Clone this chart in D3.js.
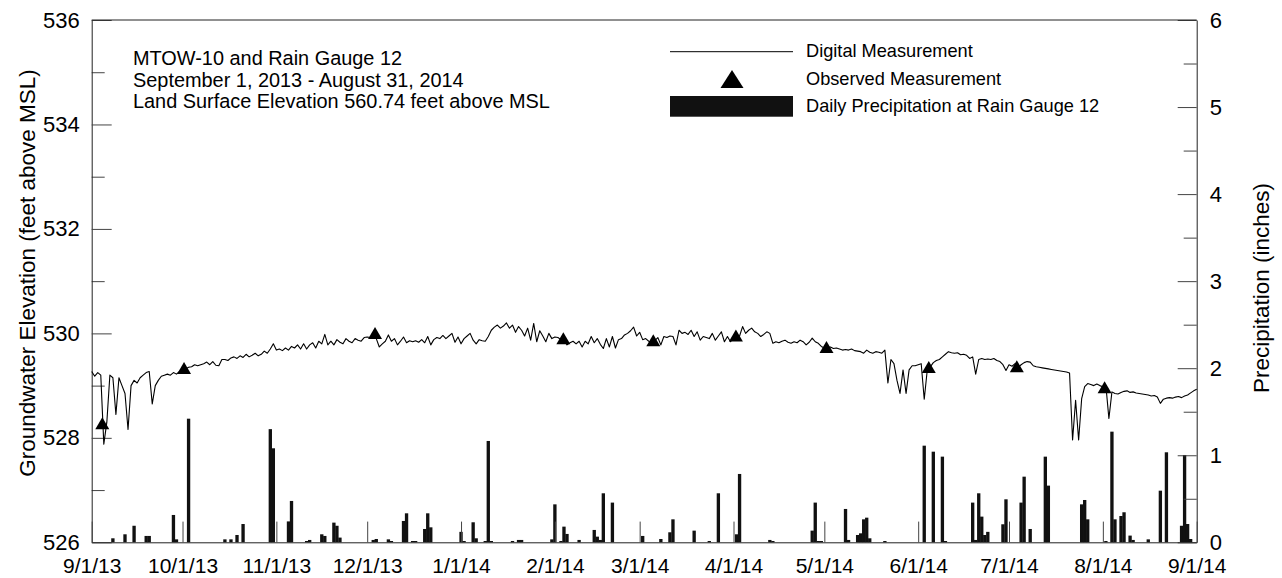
<!DOCTYPE html>
<html>
<head>
<meta charset="utf-8">
<script src="https://cdn.jsdelivr.net/npm/d3@7/dist/d3.min.js"></script>
<style>
  html, body { margin: 0; padding: 0; background: #fff; }
  svg { display: block; }
  text { font-family: "Liberation Sans", Arial, sans-serif; fill: #000; }
</style>
</head>
<body>
<svg id="chart" width="1282" height="578"></svg>
<script>
// Daily groundwater elevation (feet above MSL), one value per day from the start date
const digitalStart = "2013-09-01";
const digitalElevation = [
  529.27, 529.18, 529.25, 529.2, 527.88, 528.3, 529.2, 529.15, 528.45, 529.15,
  529.0, 528.85, 528.16, 529.0, 529.1, 529.05, 529.15, 529.2, 529.25, 529.27,
  528.65, 529.0, 529.1, 529.18, 529.2, 529.22, 529.2, 529.25, 529.22, 529.27,
  529.3, 529.32, 529.35, 529.36, 529.4, 529.38, 529.4, 529.42, 529.45, 529.4,
  529.46, 529.39, 529.38, 529.5, 529.5, 529.48, 529.53, 529.55, 529.52, 529.57,
  529.54, 529.6, 529.55, 529.58, 529.62, 529.57, 529.6, 529.66, 529.62, 529.7,
  529.8, 529.68, 529.7, 529.67, 529.72, 529.68, 529.75, 529.72, 529.78, 529.7,
  529.8, 529.7, 529.78, 529.82, 529.72, 529.85, 529.8, 529.98, 529.78, 529.85,
  529.78, 529.88, 529.83, 529.8, 529.9, 529.85, 529.82, 529.9, 529.87, 529.85,
  529.92, 529.93, 529.92, 529.95, 529.9, 529.74, 529.8, 529.85, 529.97, 529.85,
  529.9, 529.78, 529.85, 529.93, 529.82, 529.86, 529.84, 529.86, 529.83, 529.88,
  529.82, 529.94, 529.78, 529.88, 529.92, 529.9, 529.96, 529.9, 529.95, 530.0,
  529.83, 529.93, 529.8, 529.9, 529.95, 530.0, 529.87, 529.8, 529.88, 529.86,
  529.85, 529.94, 530.06, 530.12, 530.16, 530.1, 530.14, 530.2, 530.1, 530.16,
  530.02, 530.13, 530.06, 529.95, 530.1, 529.87, 530.19, 529.84, 530.05, 529.95,
  529.84, 530.0, 529.9, 529.93, 529.92, 529.88, 529.87, 529.78, 529.82, 529.85,
  529.8, 529.85, 529.74, 529.85, 529.8, 529.94, 529.82, 529.9, 529.79, 529.71,
  529.9, 529.74, 529.94, 529.72, 529.88, 529.9, 529.97, 530.0, 530.05, 530.12,
  529.95, 530.02, 529.88, 529.9, 529.85, 529.83, 529.86, 529.92, 529.78, 529.94,
  529.92, 529.95, 529.94, 529.78, 530.06, 530.0, 530.02, 529.98, 530.06, 529.94,
  530.03, 529.87, 529.94, 529.92, 529.9, 530.0, 529.87, 529.95, 530.03, 529.84,
  529.94, 529.84, 529.9, 529.92, 529.95, 530.13, 530.0, 530.06, 530.1, 530.03,
  530.0, 529.94, 529.98, 530.03, 530.0, 529.81, 529.84, 529.82, 529.85, 529.87,
  529.83, 529.81, 529.84, 529.82, 529.87, 529.84, 529.78, 529.83, 529.91, 529.84,
  529.81, 529.75, 529.72, 529.73, 529.74, 529.71, 529.72, 529.7, 529.68, 529.69,
  529.68, 529.7, 529.67, 529.66, 529.65, 529.62, 529.68, 529.64, 529.62, 529.65,
  529.64, 529.62, 529.68, 529.05, 529.5, 529.42, 529.1, 528.85, 529.3, 528.85,
  529.3, 529.38, 529.38, 529.4, 529.42, 528.74, 529.3, 529.36, 529.44, 529.48,
  529.5, 529.55, 529.6, 529.65, 529.63, 529.62, 529.63, 529.59, 529.6, 529.58,
  529.52, 529.55, 529.22, 529.5, 529.52, 529.5, 529.51, 529.5, 529.52, 529.48,
  529.46, 529.4, 529.29, 529.4, 529.37, 529.42, 529.35, 529.4, 529.44, 529.46,
  529.45, 529.38, 529.36, 529.35, 529.34, 529.33, 529.32, 529.31, 529.3, 529.29,
  529.28, 529.27, 529.26, 529.24, 527.96, 528.72, 527.96, 528.75, 528.98, 529.04,
  529.02, 529.0, 529.03, 529.0, 528.98, 529.0, 528.37, 528.88, 528.85, 528.84,
  528.87, 528.89, 528.9, 528.87, 528.88, 528.86, 528.85, 528.84, 528.83, 528.82,
  528.8, 528.81, 528.78, 528.66, 528.74, 528.76, 528.77, 528.76, 528.78, 528.79,
  528.77, 528.8, 528.82, 528.86, 528.9, 528.93
];

// Manual (observed) water-level measurements
const observedTimes = [
  "2013-09-04T12:00", "2013-10-01T12:00", "2013-12-03T14:00", "2014-02-03T19:00",
  "2014-03-05T12:00", "2014-04-01T19:00", "2014-05-01T17:00", "2014-06-04T12:00",
  "2014-07-03T14:00", "2014-08-01T14:00"
];
const observedElevation = [528.24, 529.30, 529.97, 529.87, 529.83, 529.92, 529.70, 529.32, 529.33, 528.93];

// Daily precipitation at Rain Gauge 12 (inches)
const rainDates = [
  "2013-09-08", "2013-09-12", "2013-09-15", "2013-09-19", "2013-09-20", "2013-09-28", "2013-09-29",
  "2013-10-03", "2013-10-15", "2013-10-17", "2013-10-19", "2013-10-21", "2013-10-30", "2013-10-31",
  "2013-11-05", "2013-11-06", "2013-11-11", "2013-11-12", "2013-11-16", "2013-11-17", "2013-11-20",
  "2013-11-21", "2013-11-22", "2013-12-03", "2013-12-04", "2013-12-08", "2013-12-09", "2013-12-13",
  "2013-12-14", "2013-12-16", "2013-12-17", "2013-12-20", "2013-12-21", "2013-12-22", "2014-01-01",
  "2014-01-02", "2014-01-05", "2014-01-06", "2014-01-09", "2014-01-10", "2014-01-11", "2014-01-18",
  "2014-01-20", "2014-01-21", "2014-01-31", "2014-02-01", "2014-02-03", "2014-02-04", "2014-02-05",
  "2014-02-09", "2014-02-14", "2014-02-15", "2014-02-16", "2014-02-17", "2014-02-20", "2014-03-02",
  "2014-03-08", "2014-03-11", "2014-03-12", "2014-03-19", "2014-03-24", "2014-03-27", "2014-04-02",
  "2014-04-03", "2014-04-13", "2014-04-14", "2014-04-27", "2014-04-28", "2014-04-29", "2014-04-30",
  "2014-05-08", "2014-05-09", "2014-05-12", "2014-05-13", "2014-05-14", "2014-05-15", "2014-05-16",
  "2014-05-21", "2014-06-03", "2014-06-06", "2014-06-09", "2014-06-10", "2014-06-19", "2014-06-20",
  "2014-06-21", "2014-06-22", "2014-06-23", "2014-06-24", "2014-06-29", "2014-06-30", "2014-07-05",
  "2014-07-06", "2014-07-08", "2014-07-13", "2014-07-14", "2014-07-25", "2014-07-26", "2014-07-27",
  "2014-08-02", "2014-08-04", "2014-08-05", "2014-08-07", "2014-08-08", "2014-08-10", "2014-08-11",
  "2014-08-16", "2014-08-20", "2014-08-22", "2014-08-27", "2014-08-28", "2014-08-29", "2014-08-30"
];
const rainInches = [
  0.046, 0.092, 0.19, 0.073, 0.073, 0.314, 0.034,
  1.42, 0.034, 0.034, 0.084, 0.21, 1.30, 1.08,
  0.24, 0.475, 0.015, 0.027, 0.092, 0.073, 0.226,
  0.19, 0.054, 0.027, 0.038, 0.034, 0.015, 0.245,
  0.333, 0.015, 0.015, 0.153, 0.333, 0.172, 0.12,
  0.015, 0.23, 0.046, 0.015, 1.164, 0.015, 0.015,
  0.027, 0.027, 0.034, 0.436, 0.015, 0.18, 0.096,
  0.027, 0.142, 0.065, 0.027, 0.563, 0.456, 0.073,
  0.038, 0.115, 0.264, 0.134, 0.015, 0.563, 0.092,
  0.785, 0.027, 0.015, 0.134, 0.456, 0.015, 0.015,
  0.383, 0.027, 0.084, 0.103, 0.264, 0.283, 0.046,
  0.015, 1.11, 1.041, 0.984, 0.015, 0.456, 0.027,
  0.563, 0.295, 0.084, 0.12, 0.207, 0.494, 0.456,
  0.754, 0.153, 0.984, 0.651, 0.436, 0.486, 0.264,
  0.015, 1.271, 0.264, 0.302, 0.345, 0.077, 0.027,
  0.034, 0.593, 1.034, 0.19, 1.003, 0.21, 0.038
];

// Axis ticks and labels
const monthTicks = [
  "2013-09-01", "2013-10-01", "2013-11-01", "2013-12-01", "2014-01-01", "2014-02-01", "2014-03-01",
  "2014-04-01", "2014-05-01", "2014-06-01", "2014-07-01", "2014-08-01", "2014-09-01"
];
const monthLabels = ["9/1/13", "10/1/13", "11/1/13", "12/1/13", "1/1/14", "2/1/14", "3/1/14",
                     "4/1/14", "5/1/14", "6/1/14", "7/1/14", "8/1/14", "9/1/14"];
const elevMajor = [526, 528, 530, 532, 534, 536];
const elevMinor = [527, 529, 531, 533, 535];
const rainMajor = [0, 1, 2, 3, 4, 5, 6];
const rainMinor = [0.5, 1.5, 2.5, 3.5, 4.5, 5.5];

const titleLines = [
  "MTOW-10 and Rain Gauge 12",
  "September 1, 2013 - August 31, 2014",
  "Land Surface Elevation 560.74 feet above MSL"
];
const legendLabels = ["Digital Measurement", "Observed Measurement", "Daily Precipitation at Rain Gauge 12"];

// ---- layout ----
const plot = { left: 91.7, right: 1196.7, top: 20, bottom: 542.3 };
const parseDay = d3.utcParse("%Y-%m-%d");
const parseTime = d3.utcParse("%Y-%m-%dT%H:%M");

const x = d3.scaleUtc()
  .domain([parseDay("2013-09-01"), parseDay("2014-09-01")])
  .range([plot.left, plot.right]);
const yElev = d3.scaleLinear().domain([526, 536]).range([plot.bottom, plot.top]);
const yRain = d3.scaleLinear().domain([0, 6]).range([plot.bottom, plot.top]);

const svg = d3.select("#chart");
const start = parseDay(digitalStart);
const digital = digitalElevation.map((v, i) => ({ t: d3.utcDay.offset(start, i), v }));
const observed = observedTimes.map((s, i) => ({ t: parseTime(s), v: observedElevation[i] }));
const rain = rainDates.map((s, i) => ({ t: parseDay(s), p: rainInches[i] }));

// ---- precipitation bars ----
const dayWidth = x(parseDay("2013-09-02")) - x(parseDay("2013-09-01"));
const barW = dayWidth * 1.1;
svg.append("g").attr("class", "bars")
  .selectAll("rect").data(rain).join("rect")
  .attr("x", d => x(d.t) - barW / 2)
  .attr("y", d => yRain(d.p))
  .attr("width", barW)
  .attr("height", d => yRain(0) - yRain(d.p))
  .attr("fill", "#111");

// ---- axes ----
const tickColor = "#444";
function styleAxis(size) {
  return g => {
    g.selectAll(".tick line").attr("stroke", tickColor);
    g.select(".domain").attr("stroke", "#222");
    g.selectAll("text").attr("font-size", size).attr("fill", "#000")
      .attr("font-family", "'Liberation Sans', Arial, sans-serif");
  };
}

// left elevation axis, ticks pointing inward
svg.append("g")
  .attr("transform", `translate(${plot.left},0)`)
  .call(d3.axisLeft(yElev).tickValues(elevMinor).tickSizeInner(-13).tickSizeOuter(0).tickFormat(""))
  .call(g => g.select(".domain").remove())
  .call(g => g.selectAll(".tick line").attr("stroke", tickColor));
svg.append("g")
  .attr("transform", `translate(${plot.left},0)`)
  .call(d3.axisLeft(yElev).tickValues(elevMajor).tickSizeInner(-20).tickSizeOuter(0).tickPadding(12).tickFormat(d3.format("d")))
  .call(styleAxis(22));

// right precipitation axis
svg.append("g")
  .attr("transform", `translate(${plot.right},0)`)
  .call(d3.axisRight(yRain).tickValues(rainMinor).tickSizeInner(-13).tickSizeOuter(0).tickFormat(""))
  .call(g => g.select(".domain").remove())
  .call(g => g.selectAll(".tick line").attr("stroke", tickColor));
svg.append("g")
  .attr("transform", `translate(${plot.right},0)`)
  .call(d3.axisRight(yRain).tickValues(rainMajor).tickSizeInner(-19).tickSizeOuter(0).tickPadding(13).tickFormat(d3.format("d")))
  .call(styleAxis(22));

// bottom date axis with month ticks
svg.append("g")
  .attr("transform", `translate(0,${plot.bottom})`)
  .call(d3.axisBottom(x).tickValues(monthTicks.map(parseDay)).tickSizeInner(-20.7).tickSizeOuter(0)
    .tickPadding(16).tickFormat((d, i) => monthLabels[i]))
  .call(styleAxis(21));

// top frame
svg.append("line")
  .attr("x1", plot.left).attr("x2", plot.right)
  .attr("y1", plot.top).attr("y2", plot.top)
  .attr("stroke", "#222");

// ---- digital measurement line ----
svg.append("path")
  .datum(digital)
  .attr("fill", "none")
  .attr("stroke", "#000")
  .attr("stroke-width", 1.1)
  .attr("stroke-linejoin", "round")
  .attr("d", d3.line().x(d => x(d.t)).y(d => yElev(d.v)));

// ---- observed measurement triangles ----
function triangle(w, h) {
  return `M0,${-h * 2 / 3}L${w / 2},${h / 3}L${-w / 2},${h / 3}Z`;
}
svg.append("g").selectAll("path").data(observed).join("path")
  .attr("transform", d => `translate(${x(d.t)},${yElev(d.v)})`)
  .attr("d", triangle(14, 12))
  .attr("fill", "#000");

// ---- axis titles ----
svg.append("text")
  .attr("transform", "translate(27,273) rotate(-90)")
  .attr("text-anchor", "middle").attr("dy", "0.35em")
  .attr("font-size", 22.5)
  .text("Groundwater Elevation (feet above MSL)");
svg.append("text")
  .attr("transform", "translate(1261,288) rotate(-90)")
  .attr("text-anchor", "middle").attr("dy", "0.35em")
  .attr("font-size", 22.5)
  .text("Precipitation (inches)");

// ---- site description ----
svg.append("g").selectAll("text").data(titleLines).join("text")
  .attr("x", 133)
  .attr("y", (d, i) => 65 + i * 21.7)
  .attr("font-size", 19.9)
  .text(d => d);

// ---- legend ----
const legend = svg.append("g");
legend.append("line")
  .attr("x1", 670).attr("x2", 793).attr("y1", 51.7).attr("y2", 51.7)
  .attr("stroke", "#000").attr("stroke-width", 1);
legend.append("path")
  .attr("transform", "translate(732,82)")
  .attr("d", triangle(23, 18))
  .attr("fill", "#000");
legend.append("rect")
  .attr("x", 670).attr("y", 96).attr("width", 123).attr("height", 20.7)
  .attr("fill", "#111");
legend.selectAll("text").data(legendLabels).join("text")
  .attr("x", 806)
  .attr("y", (d, i) => 57.3 + i * 27.4)
  .attr("font-size", 18.2)
  .text(d => d);
</script>
</body>
</html>
